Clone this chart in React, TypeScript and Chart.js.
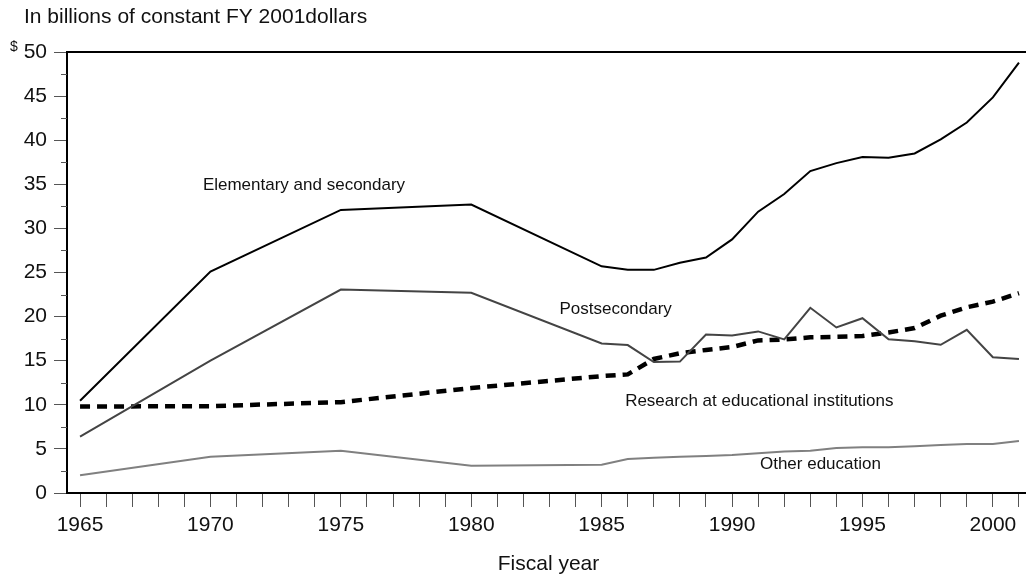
import React, { useEffect, useRef } from 'react';
import { Chart, registerables } from 'chart.js';

Chart.register(...registerables);

// ---- Data (billions of constant FY 2001 dollars) ----
const years = [1965, 1970, 1975, 1980, 1985, 1986, 1987, 1988, 1989, 1990, 1991, 1992, 1993, 1994, 1995, 1996, 1997, 1998, 1999, 2000, 2001];
const elementarySecondary = [10.45, 25.1, 32.1, 32.7, 25.7, 25.3, 25.3, 26.1, 26.7, 28.75, 31.9, 33.9, 36.5, 37.4, 38.1, 38.0, 38.5, 40.1, 42.0, 44.85, 48.8];
const postsecondary = [6.4, 15.0, 23.07, 22.7, 16.95, 16.77, 14.85, 14.9, 17.97, 17.86, 18.32, 17.42, 21.0, 18.77, 19.82, 17.43, 17.2, 16.8, 18.5, 15.4, 15.2];
const research = [9.8, 9.85, 10.3, 11.9, 13.25, 13.45, 15.2, 15.85, 16.22, 16.55, 17.3, 17.4, 17.65, 17.7, 17.8, 18.2, 18.7, 20.1, 21.05, 21.7, 22.65];
const otherEducation = [2.0, 4.1, 4.8, 3.1, 3.2, 3.85, 4.0, 4.1, 4.2, 4.3, 4.5, 4.7, 4.8, 5.1, 5.2, 5.2, 5.3, 5.45, 5.55, 5.55, 5.9];

const seriesNames = ['Elementary and secondary', 'Postsecondary', 'Research at educational institutions', 'Other education'];
const xTickYears = [1965, 1966, 1967, 1968, 1969, 1970, 1971, 1972, 1973, 1974, 1975, 1976, 1977, 1978, 1979, 1980, 1981, 1982, 1983, 1984, 1985, 1986, 1987, 1988, 1989, 1990, 1991, 1992, 1993, 1994, 1995, 1996, 1997, 1998, 1999, 2000, 2001];
const yMinorTicks = [2.5, 7.5, 12.5, 17.5, 22.5, 27.5, 32.5, 37.5, 42.5, 47.5];
const titleText = 'In billions of constant FY 2001dollars';
const xAxisTitle = 'Fiscal year';
const unitText = '$';

const FONT = '"Liberation Sans", Arial, Helvetica, sans-serif';

const toPoints = (vals: number[]) => years.map((y, i) => ({ x: y, y: vals[i] }));

const decorPlugin = {
  id: 'decor',
  afterDraw(chart: any) {
    const ctx = chart.ctx;
    const { left, right, top } = chart.chartArea;
    const xs = chart.scales.x;
    const ys = chart.scales.y;
    ctx.save();
    // top frame line
    ctx.strokeStyle = '#000';
    ctx.lineWidth = 2;
    ctx.beginPath();
    ctx.moveTo(left - 1, top);
    ctx.lineTo(right, top);
    ctx.stroke();
    // minor y ticks
    ctx.strokeStyle = '#555';
    ctx.lineWidth = 1;
    yMinorTicks.forEach((v) => {
      const py = Math.round(ys.getPixelForValue(v)) + 0.5;
      ctx.beginPath();
      ctx.moveTo(left - 6, py);
      ctx.lineTo(left, py);
      ctx.stroke();
    });
    // texts
    ctx.fillStyle = '#111';
    ctx.textBaseline = 'alphabetic';
    ctx.textAlign = 'left';
    ctx.font = `21px ${FONT}`;
    ctx.fillText(titleText, 24, 22.7);
    ctx.font = `14px ${FONT}`;
    ctx.fillText(unitText, 10, 51);
    ctx.font = `21px ${FONT}`;
    ctx.textAlign = 'center';
    ctx.fillText(xAxisTitle, (left + right) / 2 + 2, 570);
    // series labels (placed in data coordinates)
    ctx.textAlign = 'left';
    ctx.font = `17px ${FONT}`;
    const labelAt = [
      [1969.71, 34.35],
      [1983.38, 20.29],
      [1985.9, 9.86],
      [1991.07, 2.69],
    ];
    seriesNames.forEach((name, i) => {
      ctx.fillText(name, xs.getPixelForValue(labelAt[i][0]), ys.getPixelForValue(labelAt[i][1]));
    });
    ctx.restore();
  },
};

export default function App() {
  const canvasRef = useRef<HTMLCanvasElement | null>(null);

  useEffect(() => {
    if (!canvasRef.current) return;
    const chart = new Chart(canvasRef.current, {
      type: 'line',
      data: {
        datasets: [
          {
            label: seriesNames[0],
            data: toPoints(elementarySecondary),
            borderColor: '#000',
            borderWidth: 2,
            pointRadius: 0,
            tension: 0,
          },
          {
            label: seriesNames[1],
            data: toPoints(postsecondary),
            borderColor: '#444',
            borderWidth: 2,
            pointRadius: 0,
            tension: 0,
          },
          {
            label: seriesNames[2],
            data: toPoints(research),
            borderColor: '#000',
            borderWidth: 4.5,
            borderDash: [10, 7],
            pointRadius: 0,
            tension: 0,
          },
          {
            label: seriesNames[3],
            data: toPoints(otherEducation),
            borderColor: '#808080',
            borderWidth: 2,
            pointRadius: 0,
            tension: 0,
          },
        ],
      },
      options: {
        responsive: false,
        animation: false,
        devicePixelRatio: 1,
        layout: { padding: { top: 52, left: 0, right: 0, bottom: 0 } },
        plugins: {
          legend: { display: false },
          tooltip: { enabled: false },
          title: { display: false },
        },
        scales: {
          x: {
            type: 'linear',
            min: 1964.5,
            max: 2001.27,
            afterFit: (scale: any) => {
              scale.height = 84;
            },
            afterBuildTicks: (scale: any) => {
              scale.ticks = xTickYears.map((v) => ({ value: v }));
            },
            ticks: {
              autoSkip: false,
              maxRotation: 0,
              minRotation: 0,
              padding: 6,
              color: '#111',
              font: { family: FONT, size: 21 },
              callback: (v: any) => (Number(v) % 5 === 0 ? String(v) : ''),
            },
            grid: {
              display: true,
              drawOnChartArea: false,
              drawTicks: true,
              tickLength: 14,
              color: '#555',
              lineWidth: 1,
            },
            border: { display: true, color: '#000', width: 2 },
          },
          y: {
            type: 'linear',
            min: 0,
            max: 50,
            afterFit: (scale: any) => {
              scale.width = 67;
            },
            ticks: {
              stepSize: 5,
              padding: 7,
              color: '#111',
              font: { family: FONT, size: 21 },
            },
            grid: {
              display: true,
              drawOnChartArea: false,
              drawTicks: true,
              tickLength: 13,
              color: '#555',
              lineWidth: 1,
            },
            border: { display: true, color: '#000', width: 2 },
          },
        },
      },
      plugins: [decorPlugin],
    });
    return () => chart.destroy();
  }, []);

  return (
    <div style={{ position: 'absolute', left: 0, top: 0, width: 1026, height: 577, background: '#fff' }}>
      <canvas ref={canvasRef} width={1026} height={577} style={{ display: 'block' }} />
    </div>
  );
}
